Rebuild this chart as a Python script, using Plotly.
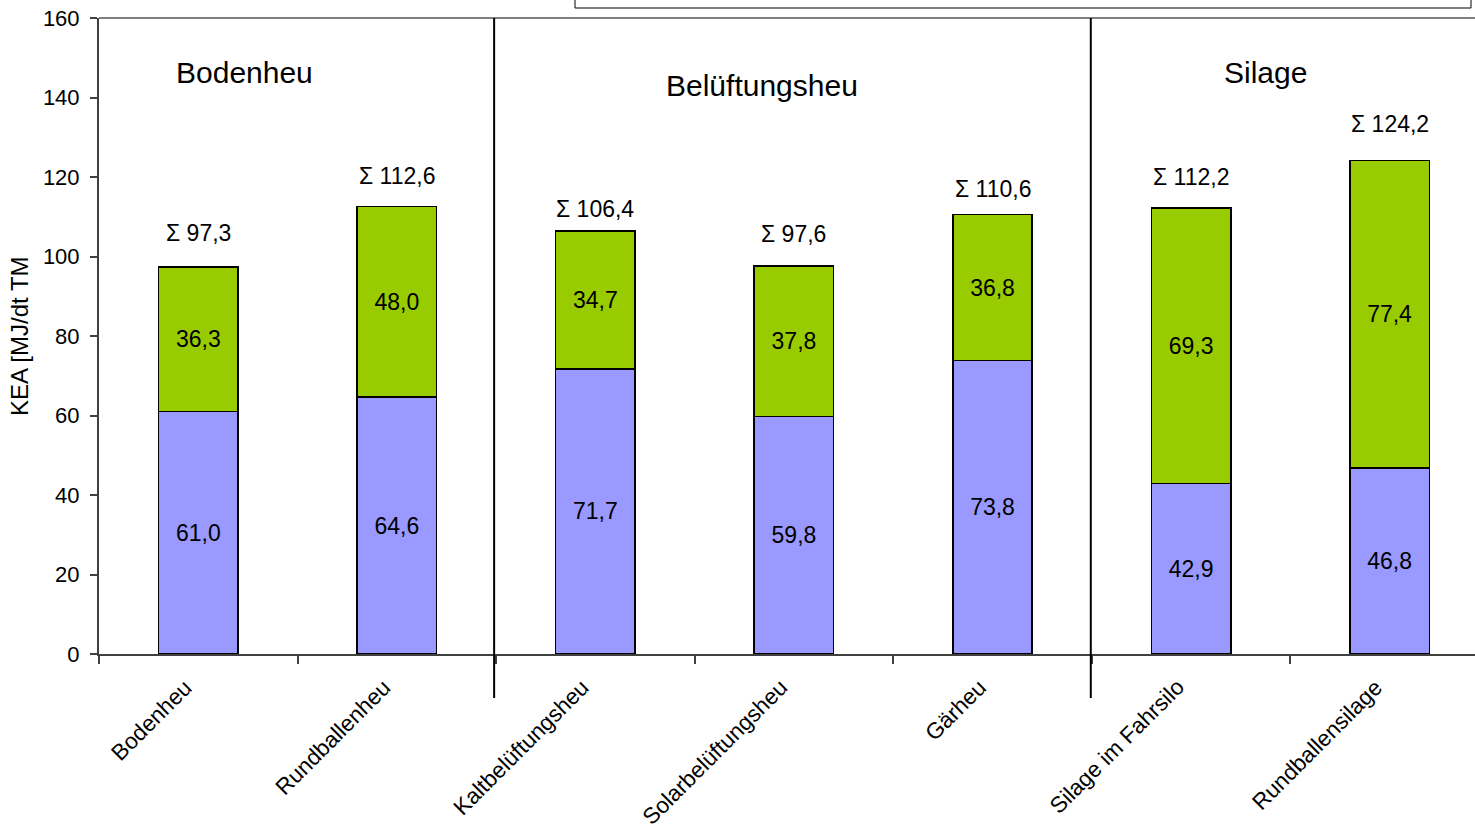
import plotly.graph_objects as go

# Kumulierter Energieaufwand je Konservierungsverfahren
categories = ["Bodenheu", "Rundballenheu", "Kaltbelüftungsheu", "Solarbelüftungsheu",
              "Gärheu", "Silage im Fahrsilo", "Rundballensilage"]
lower_part = [61.0, 64.6, 71.7, 59.8, 73.8, 42.9, 46.8]
upper_part = [36.3, 48.0, 34.7, 37.8, 36.8, 69.3, 77.4]
totals = [97.3, 112.6, 106.4, 97.6, 110.6, 112.2, 124.2]

group_names = ["Bodenheu", "Belüftungsheu", "Silage"]
y_ticks = [0, 20, 40, 60, 80, 100, 120, 140, 160]

FONT = "Liberation Sans, Arial, sans-serif"
BLUE = "#9999FF"
GREEN = "#99CC00"
PLOT_W, PLOT_H = 1376, 636

fig = go.Figure()
for vals, col in ((lower_part, BLUE), (upper_part, GREEN)):
    fig.add_trace(go.Bar(
        x=categories, y=vals, width=0.4,
        marker=dict(color=col, line=dict(color="#000000", width=1.5)),
        texttemplate="%{y:.1f}", textposition="inside", insidetextanchor="middle",
        textangle=0, constraintext="none",
        textfont=dict(family=FONT, size=23, color="#000000"),
        hoverinfo="skip", showlegend=False,
    ))

# sum labels above each stack (pixel lift per label)
sum_lift = [19, 15, 7, 17, 10, 16, 21]
for cat, tot, lift in zip(categories, totals, sum_lift):
    fig.add_annotation(
        x=cat, y=tot, xref="x", yref="y", yanchor="bottom", yshift=lift,
        text="Σ " + f"{tot:.1f}".replace(".", ","), showarrow=False,
        font=dict(family=FONT, size=23, color="#000000"),
    )

# category labels, slanted below the axis
for cat in categories:
    fig.add_annotation(
        x=cat, y=-18 / PLOT_H, xref="x", yref="paper", xshift=1,
        xanchor="right", yanchor="top", text=cat, textangle=-45, showarrow=False,
        font=dict(family=FONT, size=22.5, color="#000000"),
    )

# group headings
for name, gx, gy in zip(group_names, [0.235, 2.84, 5.376], [146.2, 143.1, 146.2]):
    fig.add_annotation(x=gx, y=gy, xref="x", yref="y", text=name, showarrow=False,
                       font=dict(family=FONT, size=30, color="#000000"))

# y axis title
fig.add_annotation(x=-80 / PLOT_W, y=0.5, xref="paper", yref="paper", text="KEA [MJ/dt TM",
                   textangle=-90, showarrow=False, xanchor="center", yanchor="middle",
                   font=dict(family=FONT, size=24, color="#000000"))

shapes = []
# plot area top edge
shapes.append(dict(type="line", xref="paper", yref="paper", x0=0, x1=1, y0=1, y1=1,
                   line=dict(color="#808080", width=2)))
# group separators
for sx in (1.49, 4.495):
    shapes.append(dict(type="line", xref="x", yref="paper", x0=sx, x1=sx,
                       y0=-44 / PLOT_H, y1=1, line=dict(color="#000000", width=2)))
# framed box along the top edge
shapes.append(dict(type="rect", xref="paper", yref="paper",
                   x0=(575 - 99) / PLOT_W, x1=(1471 - 99) / PLOT_W,
                   y0=1 + 10 / PLOT_H, y1=1.2, line=dict(color="#000000", width=1),
                   fillcolor="rgba(0,0,0,0)"))

fig.update_layout(
    barmode="stack", bargap=0.6,
    width=1475, height=830,
    margin=dict(l=99, r=0, t=18, b=176),
    paper_bgcolor="#FFFFFF", plot_bgcolor="#FFFFFF",
    separators=",.",
    shapes=shapes,
    font=dict(family=FONT, size=22, color="#000000"),
    xaxis=dict(
        range=[-0.5, 6.43], tickson="boundaries", ticks="outside", ticklen=8,
        tickcolor="#404040", tickwidth=1.5, showticklabels=False,
        showline=True, linecolor="#404040", linewidth=2,
        showgrid=False,
    ),
    yaxis=dict(
        range=[0, 160], tickvals=y_ticks, ticks="outside", ticklen=7,
        tickcolor="#404040", tickwidth=1.5, ticklabelstandoff=6,
        showline=True, linecolor="#404040", linewidth=2,
        showgrid=False, zeroline=False,
        tickfont=dict(family=FONT, size=22, color="#000000"),
    ),
)

fig.write_html("out.html")
